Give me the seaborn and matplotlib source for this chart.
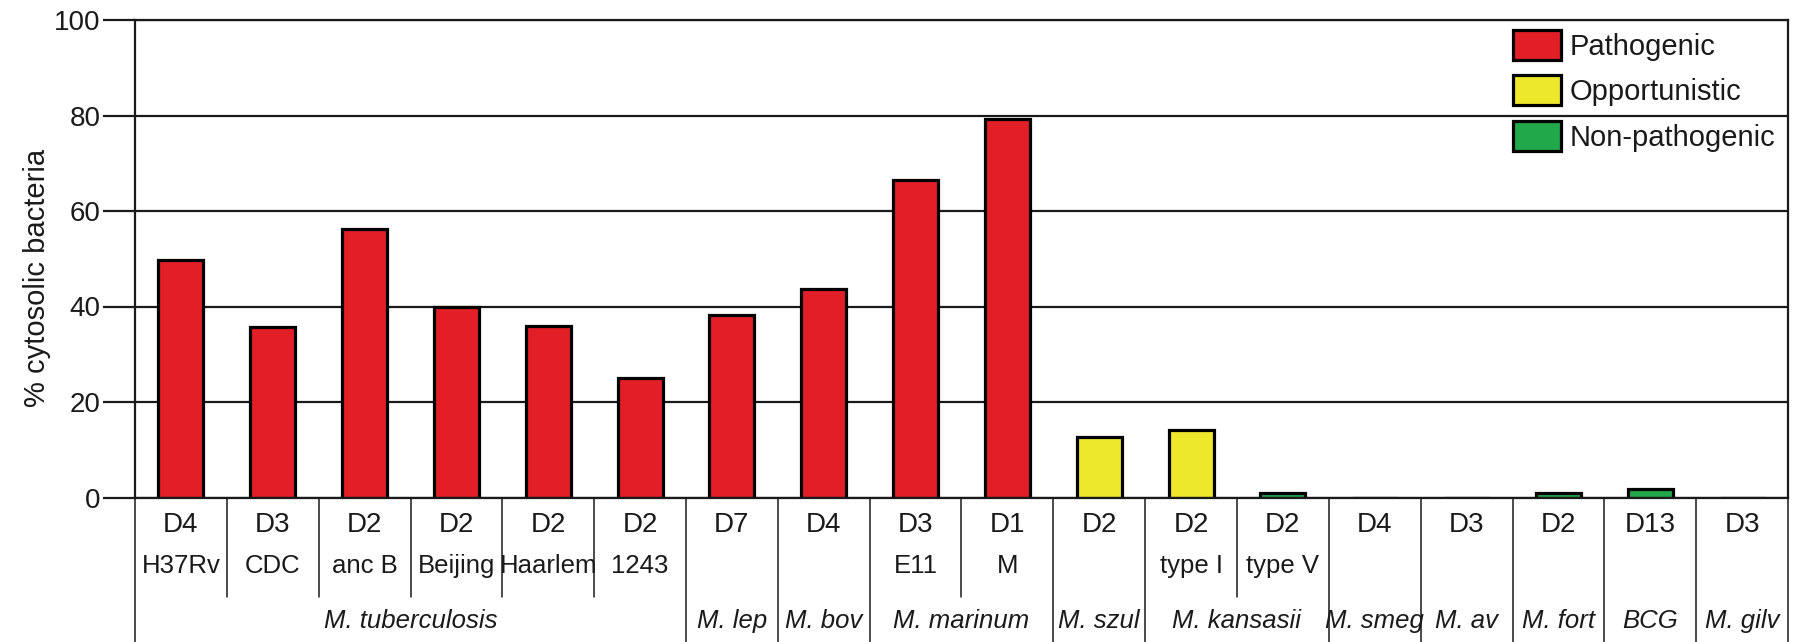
import matplotlib
matplotlib.use("Agg")
import matplotlib.pyplot as plt
from matplotlib.patches import Patch
import pandas as pd
import seaborn as sns

# ---- data -------------------------------------------------------------
deletion_labels = ["D4", "D3", "D2", "D2", "D2", "D2", "D7", "D4", "D3",
                   "D1", "D2", "D2", "D2", "D4", "D3", "D2", "D13", "D3"]
strain_labels = ["H37Rv", "CDC", "anc B", "Beijing", "Haarlem", "1243", "", "",
                 "E11", "M", "", "type I", "type V", "", "", "", "", ""]
species_labels = ["M. tuberculosis"] * 6 + [
    "M. lep", "M. bov", "M. marinum", "M. marinum", "M. szul",
    "M. kansasii", "M. kansasii", "M. smeg", "M. av", "M. fort", "BCG", "M. gilv"]
cytosolic_pct = [49.7, 35.8, 56.2, 39.8, 35.9, 25.1, 38.2, 43.6, 66.5,
                 79.2, 12.6, 14.1, 1.0, 0.0, 0.0, 1.0, 1.8, 0.0]
phenotype = ["Pathogenic"] * 10 + ["Opportunistic", "Opportunistic",
             "Non-pathogenic", "Non-pathogenic", "Opportunistic",
             "Non-pathogenic", "Non-pathogenic", "Non-pathogenic"]
phenotype_order = ["Pathogenic", "Opportunistic", "Non-pathogenic"]
phenotype_colors = {"Pathogenic": "#E21E27",
                    "Opportunistic": "#EEE82C",
                    "Non-pathogenic": "#21A84A"}
y_ticks = [0, 20, 40, 60, 80, 100]

n = len(cytosolic_pct)
df = pd.DataFrame({
    "column": [str(i) for i in range(n)],
    "value": cytosolic_pct,
    "phenotype": phenotype,
})

# ---- style ------------------------------------------------------------
sns.set_theme(style="white")
plt.rcParams["font.family"] = ["Liberation Sans", "DejaVu Sans"]

W, H = 1803, 642
fig = plt.figure(figsize=(W / 100, H / 100), dpi=100)
ax_left, ax_right, ax_top, ax_base = 135, 1788, 20, 497.5
ax_h = ax_base - ax_top
ax = fig.add_axes([ax_left / W, (H - ax_base) / H,
                   (ax_right - ax_left) / W, ax_h / H])

sns.barplot(data=df, x="column", y="value", hue="phenotype",
            hue_order=phenotype_order, palette=phenotype_colors,
            order=df["column"].tolist(), dodge=False, width=0.49,
            saturation=1, edgecolor="black", linewidth=2.3, legend=False,
            ax=ax)

ax.set_xlim(-0.5, n - 0.5)
ax.set_ylim(0, 100)
ax.set_yticks(y_ticks)
ax.set_xticks([])
ax.set_xlabel("")
ax.tick_params(axis="y", which="major", direction="out", length=23,
               width=1.6, color="#1a1a1a", labelsize=20, pad=2,
               left=True, labelcolor="#1a1a1a")
ax.set_axisbelow(True)
ax.yaxis.grid(True, color="#1a1a1a", linewidth=1.6)
for side in ["left", "right", "top", "bottom"]:
    ax.spines[side].set_visible(True)
    ax.spines[side].set_color("#1a1a1a")
    ax.spines[side].set_linewidth(1.6)

ax.set_ylabel("% cytosolic bacteria", fontsize=21, color="#1a1a1a")
ax.yaxis.set_label_coords(-0.051, 0.46)

# ---- table under the axis ---------------------------------------------
tr = ax.get_xaxis_transform()


def frac(px_below):
    """Distance below the baseline in pixels -> axes fraction."""
    return -px_below / ax_h


bottom_y = frac(H - ax_base + 2)
short_y = frac(597 - ax_base)
line_kw = dict(color="#1a1a1a", linewidth=1.1, transform=tr, clip_on=False)

for xb in (-0.5, n - 0.5):
    ax.plot([xb, xb], [0, bottom_y], **line_kw)
for i in range(n - 1):
    xb = i + 0.5
    same_group = species_labels[i] == species_labels[i + 1]
    ax.plot([xb, xb], [0, short_y if same_group else bottom_y], **line_kw)

text_kw = dict(transform=tr, ha="center", va="center", color="#1a1a1a")
for i in range(n):
    ax.text(i, frac(525 - ax_base), deletion_labels[i], fontsize=20,
            **text_kw)
    if strain_labels[i]:
        ax.text(i, frac(566 - ax_base), strain_labels[i], fontsize=18.5,
                **text_kw)

groups = []
for i, name in enumerate(species_labels):
    if groups and groups[-1][0] == name:
        groups[-1][1].append(i)
    else:
        groups.append((name, [i]))
for name, cols in groups:
    ax.text(sum(cols) / len(cols), frac(621 - ax_base), name,
            fontsize=18.5, style="italic", **text_kw)

# ---- legend -----------------------------------------------------------
handles = [Patch(facecolor=phenotype_colors[p], edgecolor="black",
                 linewidth=2.3, label=p) for p in phenotype_order]
leg = ax.legend(handles=handles, loc="upper left",
                bbox_to_anchor=(1513 / W, 1 - 30 / H),
                bbox_transform=fig.transFigure, frameon=False, fontsize=21,
                handlelength=1.65, handleheight=1.2, handletextpad=0.3,
                labelspacing=0.5, borderpad=0, borderaxespad=0)
for t in leg.get_texts():
    t.set_color("#1a1a1a")

fig.savefig("out.png", dpi=100)
